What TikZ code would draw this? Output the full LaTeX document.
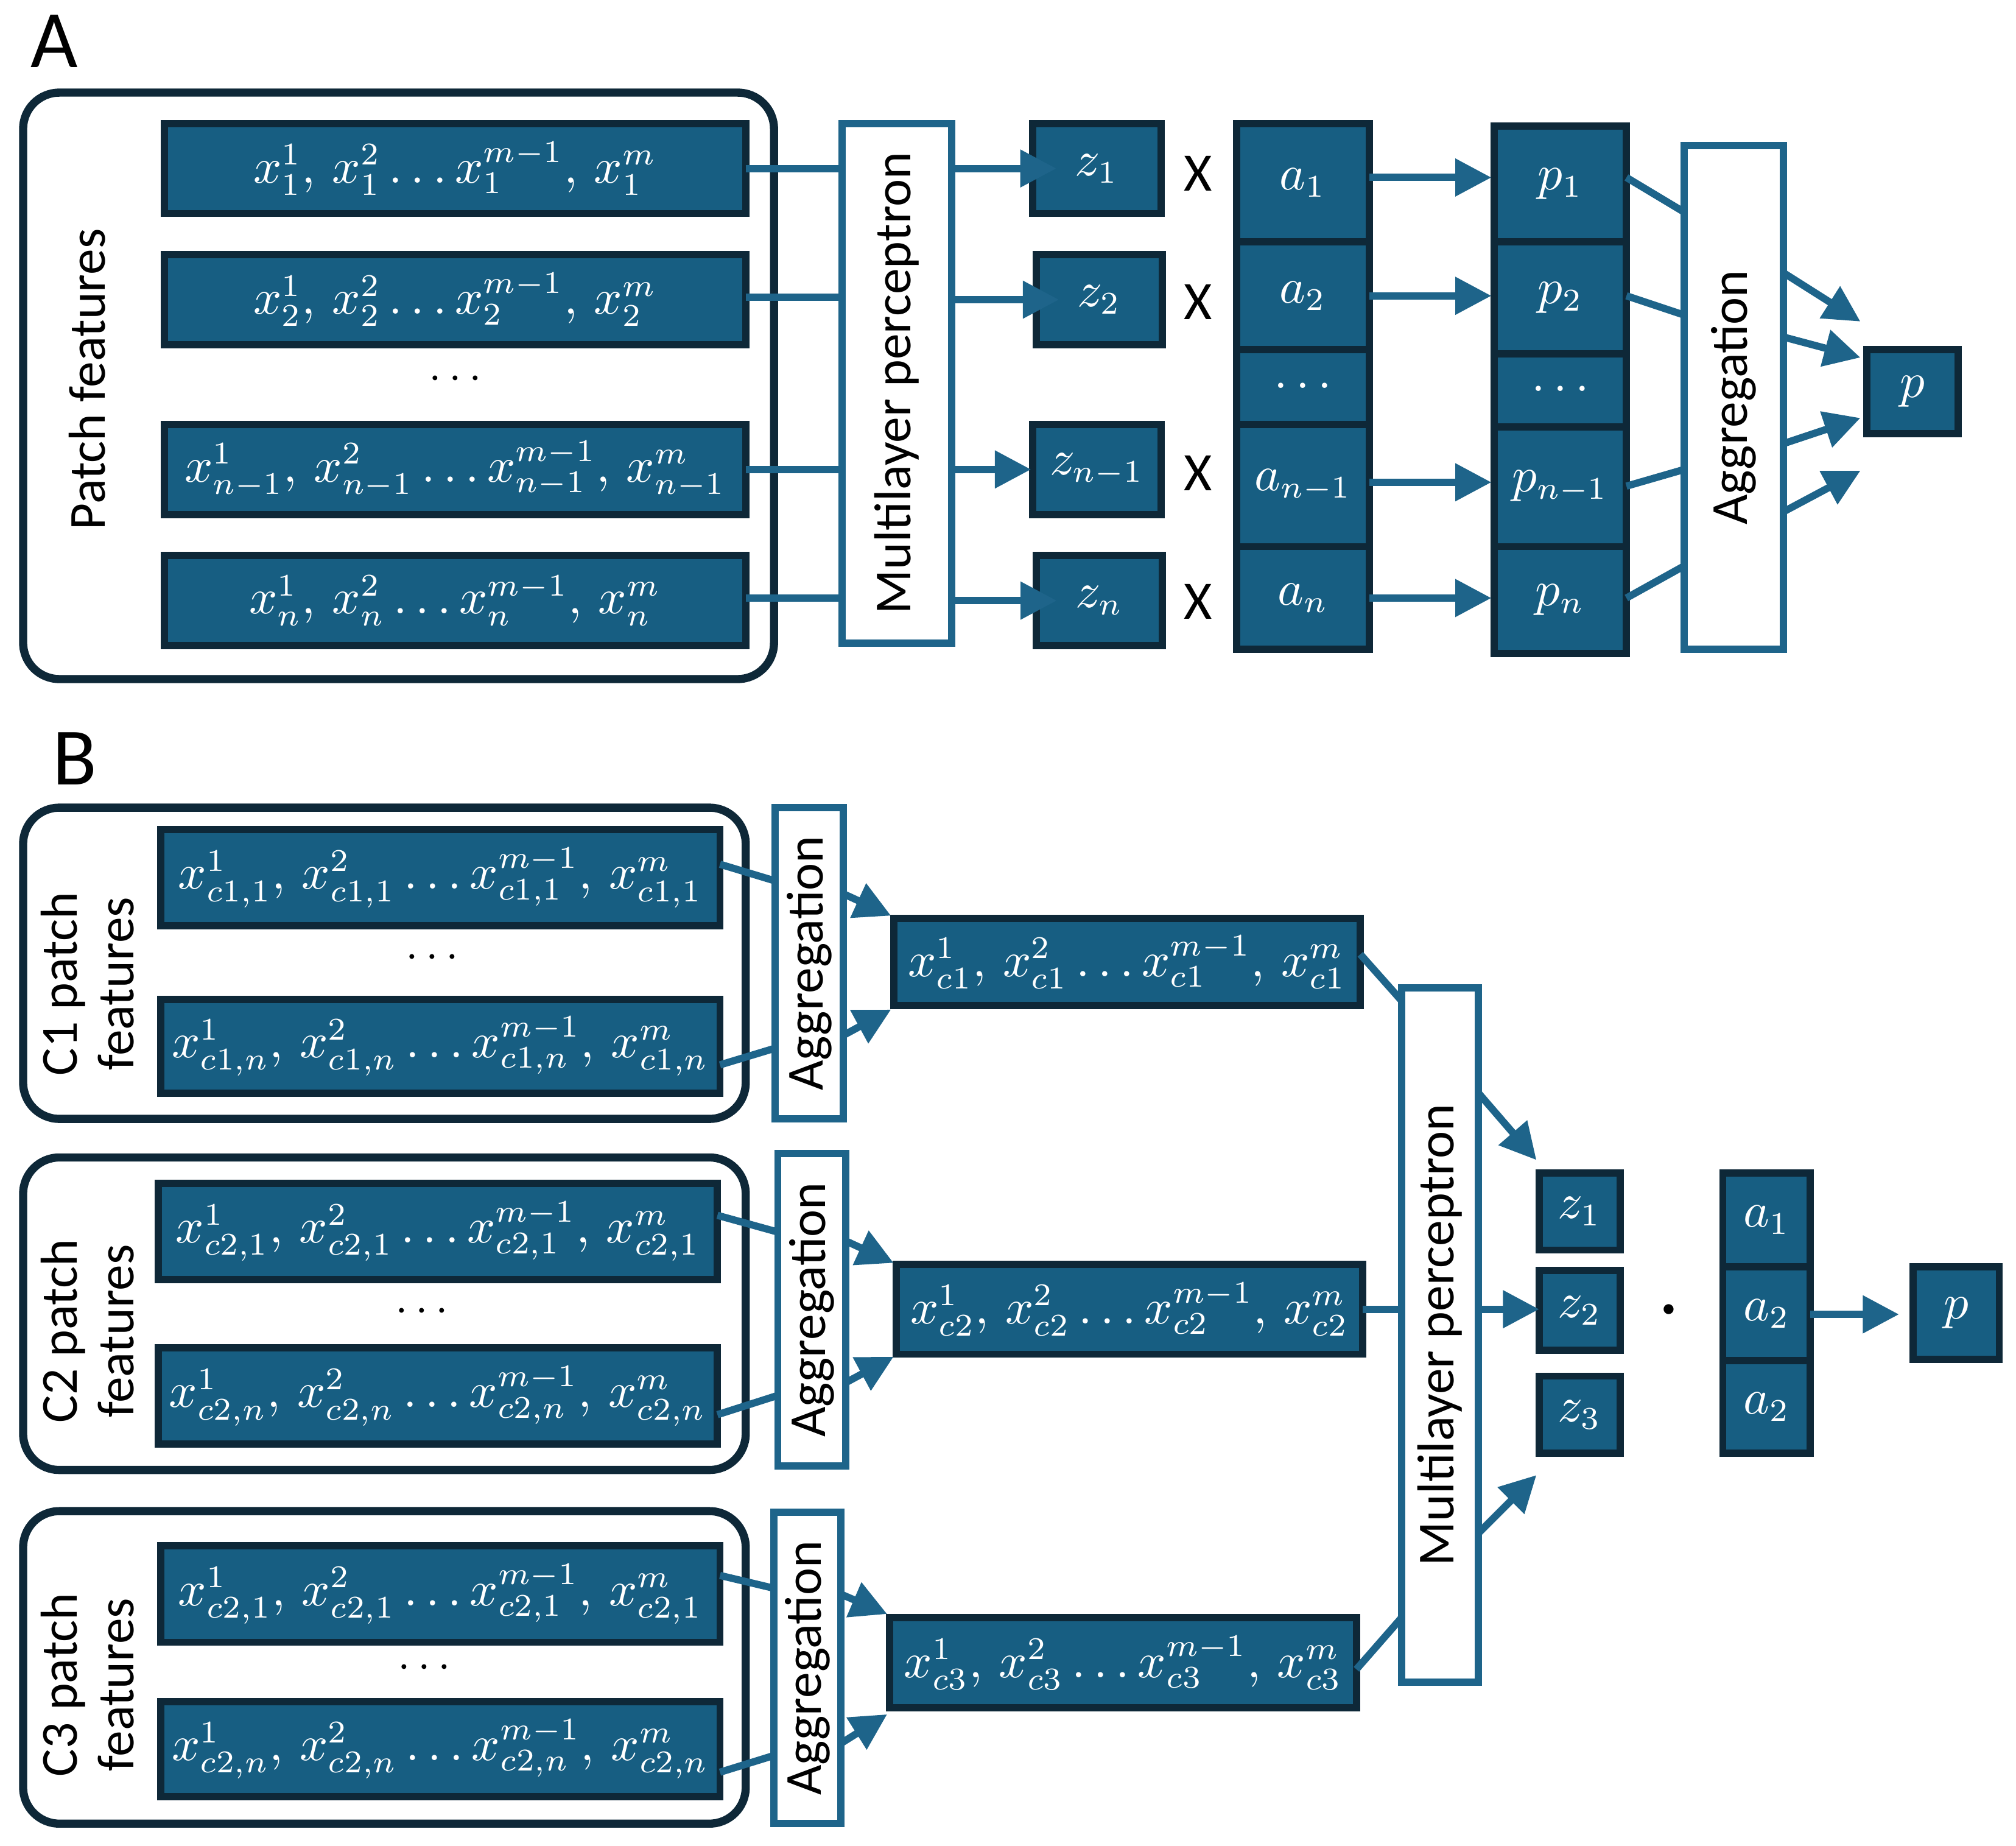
\documentclass[tikz,border=0pt]{standalone}
\usepackage{fontspec}
\setsansfont{Carlito}
\usetikzlibrary{arrows.meta}
\definecolor{fillb}{RGB}{23,94,130}
\definecolor{edgeb}{RGB}{14,40,56}
\definecolor{lineb}{RGB}{30,100,138}
\tikzset{
 dbox/.style={draw=edgeb,line width=1.6pt,fill=fillb,text=white,font=\fontsize{10.5}{12}\selectfont},
 wbox/.style={draw=lineb,line width=1.6pt,fill=white,font=\sffamily\fontsize{11.5}{13}\selectfont},
 outer/.style={draw=edgeb,line width=1.8pt,rounded corners=8pt},
 ln/.style={draw=lineb,line width=1.6pt},
 ar/.style={ln,-{Triangle[length=8pt,width=8pt]}},
 lab/.style={font=\sffamily\fontsize{11.5}{12.5}\selectfont,align=center},
 big/.style={font=\sffamily\fontsize{18}{20}\selectfont},
}
\begin{document}
\begin{tikzpicture}[x=0.01cm,y=-0.01cm]
\useasboundingbox (0,0) rectangle (1568,1435);
% ---------- A
\node[big] (A) at (42,32) {A};
\draw[outer] (18,72) rectangle (602,528);
\node[lab,rotate=90] (pf) at (68,295) {Patch features};
\path[dbox] (128,96) rectangle (580,166) node[midway] (r1) {$x_1^1,\, x_1^2 \dots x_1^{m-1},\, x_1^m$};
\path[dbox] (128,198) rectangle (580,268) node[midway] (r2) {$x_2^1,\, x_2^2 \dots x_2^{m-1},\, x_2^m$};
\node (rd) at (354,295) {$\cdots$};
\path[dbox] (128,330) rectangle (580,400) node[midway] (r3) {$x_{n-1}^1,\, x_{n-1}^2 \dots x_{n-1}^{m-1},\, x_{n-1}^m$};
\path[dbox] (128,432) rectangle (580,502) node[midway] (r4) {$x_n^1,\, x_n^2 \dots x_n^{m-1},\, x_n^m$};
\path[wbox] (655,96) rectangle (740,500) node[midway,rotate=90] (mlpA) {Multilayer perceptron};
\foreach \y in {131,231,365,465}{
 \coordinate (s) at (580,\y); \coordinate (t) at (655,\y); \draw[ln] (s)--(t);}
\path[dbox] (803,96) rectangle (903,166) node[midway] (z1) {$z_1$};
\path[dbox] (806,198) rectangle (904,268) node[midway] (z2) {$z_2$};
\path[dbox] (803,330) rectangle (903,400) node[midway] (z3) {$z_{n-1}$};
\path[dbox] (806,432) rectangle (904,502) node[midway] (z4) {$z_n$};
\foreach \y/\n in {131/z1,233/z2,365/z3,467/z4}{
 \coordinate (s) at (740,\y); \draw[ar] (s)--(\n.west|-s);}
\foreach \y in {135,235,368,468}{\node[font=\sffamily\fontsize{12}{14}\selectfont] at (932,\y) {X};}
\path[dbox] (962,96) rectangle (1065,188) node[midway] (a1) {$a_1$};
\path[dbox] (962,188) rectangle (1065,272) node[midway] (a2) {$a_2$};
\path[dbox] (962,272) rectangle (1065,330) node[midway] (ad) {$\cdots$};
\path[dbox] (962,330) rectangle (1065,425) node[midway] (a3) {$a_{n-1}$};
\path[dbox] (962,425) rectangle (1065,505) node[midway] (a4) {$a_n$};
\path[dbox] (1162,98) rectangle (1265,188) node[midway] (p1) {$p_1$};
\path[dbox] (1162,188) rectangle (1265,275) node[midway] (p2) {$p_2$};
\path[dbox] (1162,275) rectangle (1265,332) node[midway] (pd) {$\cdots$};
\path[dbox] (1162,332) rectangle (1265,425) node[midway] (p3) {$p_{n-1}$};
\path[dbox] (1162,425) rectangle (1265,508) node[midway] (p4) {$p_n$};
\foreach \y in {138,230,375,465}{
 \coordinate (s) at (1065,\y); \coordinate (t) at (1160,\y); \draw[ar] (s)--(t);}
\path[wbox] (1310,113) rectangle (1387,505) node[midway,rotate=90] (aggA) {Aggregation};
\foreach \a/\b in {138/165,230/245,378/365,465/440}{
 \coordinate (s) at (1265,\a); \coordinate (t) at (1310,\b); \draw[ln] (s)--(t);}
\path[dbox] (1452,272) rectangle (1523,337) node[midway] (pA) {$p$};
\foreach \a/\b in {212/250,262/278,345/325,398/366}{
 \coordinate (s) at (1387,\a); \coordinate (t) at (1447,\b); \draw[ar] (s)--(t);}
% ---------- B
\node[big] (B) at (58,590) {B};
% C1
\draw[outer] (18,628) rectangle (580,870);
\node[lab,rotate=90] (c1l) at (68,765) {C1 patch\\features};
\path[dbox] (125,645) rectangle (560,720) node[midway] (c1a) {$x_{c1,1}^1,\, x_{c1,1}^2 \dots x_{c1,1}^{m-1},\, x_{c1,1}^m$};
\node (c1d) at (336,745) {$\cdots$};
\path[dbox] (125,777) rectangle (560,850) node[midway] (c1b) {$x_{c1,n}^1,\, x_{c1,n}^2 \dots x_{c1,n}^{m-1},\, x_{c1,n}^m$};
\path[wbox] (603,628) rectangle (656,870) node[midway,rotate=90] (g1) {Aggregation};
\path[dbox] (695,714) rectangle (1058,782) node[midway] (o1) {$x_{c1}^1,\, x_{c1}^2 \dots x_{c1}^{m-1},\, x_{c1}^m$};
% C2
\draw[outer] (18,900) rectangle (580,1143);
\node[lab,rotate=90] (c2l) at (68,1035) {C2 patch\\features};
\path[dbox] (123,920) rectangle (558,995) node[midway] (c2a) {$x_{c2,1}^1,\, x_{c2,1}^2 \dots x_{c2,1}^{m-1},\, x_{c2,1}^m$};
\node (c2d) at (328,1020) {$\cdots$};
\path[dbox] (123,1048) rectangle (558,1123) node[midway] (c2b) {$x_{c2,n}^1,\, x_{c2,n}^2 \dots x_{c2,n}^{m-1},\, x_{c2,n}^m$};
\path[wbox] (605,897) rectangle (658,1140) node[midway,rotate=90] (g2) {Aggregation};
\path[dbox] (697,983) rectangle (1060,1053) node[midway] (o2) {$x_{c2}^1,\, x_{c2}^2 \dots x_{c2}^{m-1},\, x_{c2}^m$};
% C3
\draw[outer] (18,1175) rectangle (580,1418);
\node[lab,rotate=90] (c3l) at (68,1310) {C3 patch\\features};
\path[dbox] (125,1202) rectangle (560,1277) node[midway] (c3a) {$x_{c2,1}^1,\, x_{c2,1}^2 \dots x_{c2,1}^{m-1},\, x_{c2,1}^m$};
\node (c3d) at (330,1297) {$\cdots$};
\path[dbox] (125,1323) rectangle (560,1397) node[midway] (c3b) {$x_{c2,n}^1,\, x_{c2,n}^2 \dots x_{c2,n}^{m-1},\, x_{c2,n}^m$};
\path[wbox] (602,1176) rectangle (654,1418) node[midway,rotate=90] (g3) {Aggregation};
\path[dbox] (692,1258) rectangle (1055,1328) node[midway] (o3) {$x_{c3}^1,\, x_{c3}^2 \dots x_{c3}^{m-1},\, x_{c3}^m$};
% aggregation links
\foreach \xa/\xg/\xo/\ya/\yb/\yc/\yd/\ye/\yf/\yg/\yh in {
 560/603/693/672/685/828/815/695/712/805/785,
 558/605/695/945/958/1100/1085/965/982/1075/1055,
 560/602/690/1225/1235/1378/1365/1240/1255/1355/1333}{
 \coordinate (s) at (\xa,\ya); \coordinate (t) at (\xg,\yb); \draw[ln] (s)--(t);
 \coordinate (s) at (\xa,\yc); \coordinate (t) at (\xg,\yd); \draw[ln] (s)--(t);
 \pgfmathsetmacro\xgo{\xg+53}
 \coordinate (s) at (\xgo,\ye); \coordinate (t) at (\xo,\yf); \draw[ar] (s)--(t);
 \coordinate (s) at (\xgo,\yg); \coordinate (t) at (\xo,\yh); \draw[ar] (s)--(t);}
% MLP B
\path[wbox] (1090,768) rectangle (1150,1308) node[midway,rotate=90] (mlpB) {Multilayer perceptron};
\coordinate (m1) at (1090,778); \coordinate (m2) at (1090,1018); \coordinate (m3) at (1090,1258);
\coordinate (n1) at (1058,742); \coordinate (n2) at (1060,1018); \coordinate (n3) at (1055,1298);
\draw[ln] (n1) -- (m1);
\draw[ln] (n2) -- (m2);
\draw[ln] (n3) -- (m3);
\path[dbox] (1197,912) rectangle (1260,972) node[midway] (bz1) {$z_1$};
\path[dbox] (1197,988) rectangle (1260,1050) node[midway] (bz2) {$z_2$};
\path[dbox] (1197,1070) rectangle (1260,1130) node[midway] (bz3) {$z_3$};
\coordinate (q1) at (1150,850); \coordinate (q2) at (1150,1018); \coordinate (q3) at (1150,1192);
\coordinate (e1) at (1195,902); \coordinate (e3) at (1195,1147);
\draw[ar] (q1)--(e1); \draw[ar] (q2)--(bz2.west|-q2); \draw[ar] (q3)--(e3);
\node[font=\fontsize{20}{20}\selectfont] (dot) at (1298,1020) {$\cdot$};
\path[dbox] (1340,912) rectangle (1408,985) node[midway] (ba1) {$a_1$};
\path[dbox] (1340,985) rectangle (1408,1058) node[midway] (ba2) {$a_2$};
\path[dbox] (1340,1058) rectangle (1408,1130) node[midway] (ba3) {$a_2$};
\path[dbox] (1488,985) rectangle (1555,1057) node[midway] (pB) {$p$};
\coordinate (h1) at (1408,1022); \coordinate (h2) at (1477,1022);
\draw[ar] (h1) -- (h2);
\end{tikzpicture}
\end{document}
